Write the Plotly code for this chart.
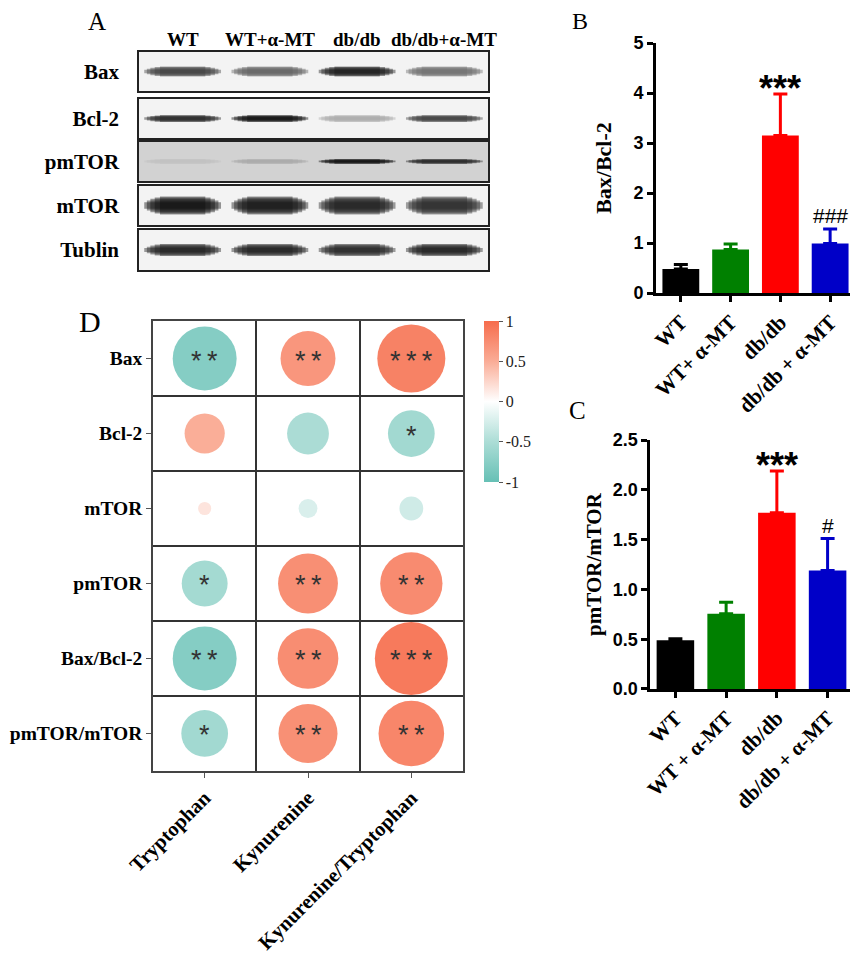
import plotly.graph_objects as go

# ---------------- panel B / C : bar charts ----------------
groups_b = ["WT", "WT+ α-MT", "db/db", "db/db + α-MT"]
groups_c = ["WT", "WT + α-MT", "db/db", "db/db + α-MT"]
bar_colors = ["#000000", "#008000", "#ff0000", "#0000c8"]

bax_bcl2 = [0.48, 0.87, 3.15, 0.99]
bax_bcl2_err = [0.09, 0.11, 0.83, 0.29]
bax_bcl2_sig = ["", "", "***", "###"]

pmtor_mtor = [0.49, 0.755, 1.77, 1.19]
pmtor_mtor_err = [0.015, 0.115, 0.42, 0.32]
pmtor_mtor_sig = ["", "", "***", "#"]

# ---------------- panel A : western blot ----------------
lanes = ["WT", "WT+α-MT", "db/db", "db/db+α-MT"]
proteins = ["Bax", "Bcl-2", "pmTOR", "mTOR", "Tublin"]
bax_band = [0.8, 0.65, 0.95, 0.6]
bcl2_band = [0.9, 1.0, 0.35, 0.8]
pmtor_band = [0.25, 0.35, 1.0, 0.9]
mtor_band = [1.0, 0.97, 0.93, 0.88]
tublin_band = [0.93, 0.93, 0.9, 0.93]

# ---------------- panel D : correlation plot ----------------
rows_d = ["Bax", "Bcl-2", "mTOR", "pmTOR", "Bax/Bcl-2", "pmTOR/mTOR"]
cols_d = ["Tryptophan", "Kynurenine", "Kynurenine/Tryptophan"]
r_trp = [-0.78, 0.49, 0.16, -0.56, -0.78, -0.57]
r_kyn = [0.67, -0.51, -0.23, 0.73, 0.74, 0.72]
r_kt = [0.83, -0.57, -0.29, 0.76, 0.89, 0.80]
sig_trp = ["**", "", "", "*", "**", "*"]
sig_kyn = ["**", "", "", "**", "**", "**"]
sig_kt = ["***", "*", "", "**", "***", "**"]

SERIF = "Liberation Serif, Times New Roman, serif"
SANS = "Liberation Sans, Arial, sans-serif"

fig = go.Figure()
annos = []

# bars (one trace per bar so the error bar takes the bar colour)
for xa, ya, groups, vals, errs, sigs in [
    ("x", "y", groups_b, bax_bcl2, bax_bcl2_err, bax_bcl2_sig),
    ("x2", "y2", groups_c, pmtor_mtor, pmtor_mtor_err, pmtor_mtor_sig),
]:
    for i, g in enumerate(groups):
        fig.add_trace(go.Bar(
            x=[g], y=[vals[i]], width=0.74,
            marker=dict(color=bar_colors[i], line_width=0),
            error_y=dict(type="data", array=[errs[i]], arrayminus=[0], symmetric=False,
                         color=bar_colors[i], thickness=3, width=7),
            xaxis=xa, yaxis=ya, showlegend=False, hoverinfo="skip"))
        if sigs[i]:
            star = "*" in sigs[i]
            annos.append(dict(
                x=g, y=vals[i] + errs[i], xref=xa, yref=ya, text=sigs[i], showarrow=False,
                yanchor="bottom", yshift=-17 if star else 0,
                font=dict(family=SANS, size=36 if star else 21, color="black",
                          weight="bold" if star else "normal")))

# blot strips
bands = [bax_band, bcl2_band, pmtor_band, mtor_band, tublin_band]
band_thick = [10, 7, 5, 18, 12]
for k, (prot, band) in enumerate(zip(proteins, bands)):
    ax = str(k + 4)
    for i, val in enumerate(band):
        g = int(255 * (1 - 0.95 * val))
        col = "rgba(%d,%d,%d,0.42)" % (g, g, g)
        for half, wf in [(0.44, 0.35), (0.41, 0.55), (0.37, 0.75), (0.32, 0.9), (0.26, 1.0)]:
            fig.add_trace(go.Scatter(
                x=[i - half, i + half], y=[0, 0], mode="lines",
                line=dict(color=col, width=band_thick[k] * wf),
                xaxis="x" + ax, yaxis="y" + ax, showlegend=False, hoverinfo="skip"))

# correlation bubbles
cx, cy, cr, cs = [], [], [], []
for j, (rv, sv) in enumerate([(r_trp, sig_trp), (r_kyn, sig_kyn), (r_kt, sig_kt)]):
    for i in range(len(rows_d)):
        cx.append(j)
        cy.append(i)
        cr.append(rv[i])
        cs.append(sv[i])
fig.add_trace(go.Scatter(
    x=cx, y=cy, mode="markers", xaxis="x3", yaxis="y3", showlegend=False, hoverinfo="skip",
    marker=dict(size=[abs(v) for v in cr], sizemode="diameter", sizeref=1 / 82,
                color=cr, cmin=-1, cmax=1, opacity=1,
                colorscale=[[0, "rgb(102,192,181)"], [0.25, "rgb(172,221,214)"],
                            [0.5, "rgb(255,255,255)"],
                            [0.75, "rgb(250,172,150)"], [1, "rgb(246,108,76)"]],
                line_width=0,
                colorbar=dict(x=0.5548, xanchor="left", y=0.6736, yanchor="top",
                              len=161, lenmode="pixels", thickness=15, thicknessmode="pixels",
                              xpad=0, ypad=0, outlinewidth=0,
                              tickvals=[-1, -0.5, 0, 0.5, 1], ticktext=["-1", "-0.5", "0", "0.5", "1"],
                              ticks="outside", ticklen=4, tickcolor="#555",
                              tickfont=dict(family=SERIF, size=16, color="#222")))))
for x0, y0, s in zip(cx, cy, cs):
    if s:
        annos.append(dict(x=x0, y=y0, xref="x3", yref="y3", showarrow=False, yshift=-2,
                          text="\u2009".join(s),
                          font=dict(family=SANS, size=27, color="#333")))

# blot column headers
for i, ln in enumerate(lanes):
    annos.append(dict(x=i, y=0.9541, xref="x4", yref="paper", text=ln, showarrow=False,
                      yanchor="bottom", yshift=0,
                      font=dict(family=SERIF, size=19, color="black", weight="bold")))

# panel letters
for txt, px, py, sz in [("A", 0.1037, 0.9860, 25), ("B", 0.6667, 0.9860, 24),
                        ("C", 0.6643, 0.5798, 25), ("D", 0.0956, 0.6736, 30)]:
    annos.append(dict(x=px, y=py, xref="paper", yref="paper", text=txt, showarrow=False,
                      xanchor="center", yanchor="middle",
                      font=dict(family=SERIF, size=sz, color="black")))

bar_x = dict(showline=True, linewidth=2.5, linecolor="black", ticks="outside", ticklen=6,
             tickwidth=2.5, tickcolor="black", tickangle=-45, range=[-0.5, 3.5],
             tickfont=dict(family=SERIF, size=21, color="black", weight="bold"),
             showgrid=False, zeroline=False, automargin=False)
bar_y = dict(showline=True, linewidth=2.5, linecolor="black", ticks="outside", ticklen=6,
             tickwidth=2.5, tickcolor="black", showgrid=False, zeroline=False, automargin=False,
             tickfont=dict(family=SANS, size=18, color="black", weight="bold"))

layout = dict(
    width=858, height=959, margin=dict(l=0, r=0, t=0, b=0, autoexpand=False),
    paper_bgcolor="white", plot_bgcolor="white", barmode="overlay", showlegend=False,
    annotations=annos,
    xaxis=dict(bar_x, domain=[0.7552, 0.9872], anchor="y"),
    yaxis=dict(bar_y, domain=[0.7028, 0.9635], anchor="x", range=[0, 5], dtick=1,
               title=dict(text="Bax/Bcl-2", standoff=16,
                          font=dict(family=SERIF, size=22, color="black", weight="bold"))),
    xaxis2=dict(bar_x, domain=[0.7483, 0.9848], anchor="y2"),
    yaxis2=dict(bar_y, domain=[0.2899, 0.5495], anchor="x2", range=[0, 2.5], dtick=0.5,
                tickformat=".1f",
                title=dict(text="pmTOR/mTOR", standoff=6,
                           font=dict(family=SERIF, size=21, color="black", weight="bold"))),
    xaxis3=dict(domain=[0.1690, 0.5303], anchor="y3", range=[-0.5, 2.5], automargin=False,
                tickmode="array", tickvals=[0, 1, 2], ticktext=cols_d, tickangle=-45,
                ticks="outside", ticklen=5, tickcolor="#555",
                tickfont=dict(family=SERIF, size=20.5, color="black", weight="bold"),
                showline=True, mirror=True, linecolor="#444", linewidth=1.5,
                showgrid=False, zeroline=False,
                minor=dict(tick0=0.5, dtick=1, showgrid=True, gridcolor="#333", gridwidth=1.5)),
    yaxis3=dict(domain=[0.2044, 0.6736], anchor="x3", range=[5.5, -0.5], automargin=False,
                tickmode="array", tickvals=list(range(len(rows_d))), ticktext=rows_d,
                ticks="outside", ticklen=5, tickcolor="#555",
                tickfont=dict(family=SERIF, size=19.5, color="black", weight="bold"),
                showline=True, mirror=True, linecolor="#444", linewidth=1.5,
                showgrid=False, zeroline=False,
                minor=dict(tick0=0.5, dtick=1, showgrid=True, gridcolor="#333", gridwidth=1.5)),
)

strip_domains = [[0.9135, 0.9541], [0.8644, 0.9051], [0.8196, 0.8603],
                 [0.7737, 0.8144], [0.7268, 0.7685]]
shapes = []
for k, prot in enumerate(proteins):
    ax = str(k + 4)
    layout["xaxis" + ax] = dict(domain=[0.1527, 0.5594], anchor="y" + ax, range=[-0.5, 3.5],
                                showline=True, mirror=True, linecolor="#222", linewidth=1.5,
                                showticklabels=False, ticks="", showgrid=False, zeroline=False,
                                automargin=False)
    layout["yaxis" + ax] = dict(domain=strip_domains[k], anchor="x" + ax, range=[-1, 1],
                                showline=True, mirror=True, linecolor="#222", linewidth=1.5,
                                tickmode="array", tickvals=[0], ticktext=[prot],
                                ticks="outside", ticklen=14, tickcolor="rgba(0,0,0,0)",
                                tickfont=dict(family=SERIF, size=21, color="black", weight="bold"),
                                showgrid=False, zeroline=False, automargin=False)
    shapes.append(dict(type="rect", xref="x%s domain" % ax, yref="y%s domain" % ax,
                       x0=0, x1=1, y0=0, y1=1, layer="below", line_width=0,
                       fillcolor="#d2d2d2" if prot == "pmTOR" else "#f3f3f3"))
layout["shapes"] = shapes

fig.update_layout(**layout)
fig.write_html("out.html")
